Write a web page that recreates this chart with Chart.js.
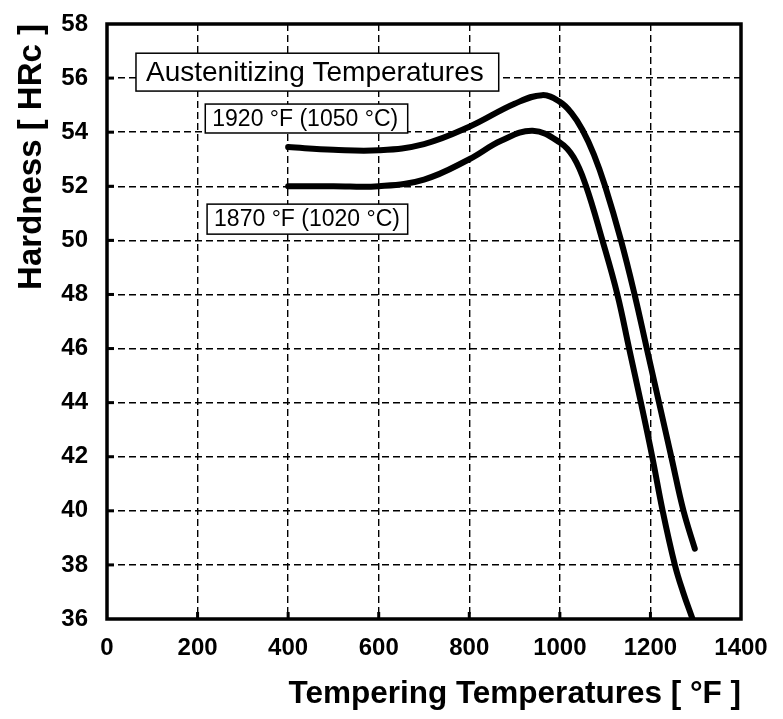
<!DOCTYPE html>
<html>
<head>
<meta charset="utf-8">
<script src="https://cdn.jsdelivr.net/npm/chart.js@4/dist/chart.umd.min.js"></script>
<style>
  html, body { margin: 0; padding: 0; background: #fff; }
  #wrap { width: 783px; height: 719px; }
</style>
</head>
<body>
<div id="wrap"><canvas id="hardnessChart" width="783" height="719"></canvas></div>
<script>
// curve 1920 F (1050 C)
const temps1920 = [400, 500, 600, 700, 800, 900, 961, 1000, 1025, 1050, 1075, 1100, 1135, 1165, 1192, 1219, 1246, 1273, 1298];
const hardness1920 = [53.45, 53.35, 53.33, 53.56, 54.2, 55.05, 55.37, 55.12, 54.72, 54.08, 53.18, 52.0, 50.0, 48.0, 46.0, 44.0, 42.0, 40.0, 38.6];

// curve 1870 F (1020 C)
const temps1870 = [400, 500, 600, 700, 800, 870, 940, 1000, 1030, 1057, 1094, 1127, 1153, 1179, 1204, 1227, 1254, 1272, 1293];
const hardness1870 = [52.0, 52.0, 52.0, 52.25, 53.0, 53.68, 54.05, 53.62, 53.08, 52.05, 50.0, 48.0, 46.0, 44.0, 42.0, 40.0, 38.0, 37.0, 36.0];

const xTicks = [0, 200, 400, 600, 800, 1000, 1200, 1400];
const yTicks = [36, 38, 40, 42, 44, 46, 48, 50, 52, 54, 56, 58];

const labelTexts = ["Austenitizing Temperatures", "1920 \u00B0F (1050 \u00B0C)", "1870 \u00B0F (1020 \u00B0C)"];

const toPoints = (xs, ys) => xs.map((x, i) => ({ x: x, y: ys[i] }));

// frame, small inner ticks and the label boxes
const framePlugin = {
  id: "frame",
  beforeDatasetsDraw(chart) {
    const { ctx, chartArea: a, scales } = chart;
    ctx.save();
    ctx.fillStyle = "#000";
    xTicks.slice(1, -1).forEach(v => {
      const px = scales.x.getPixelForValue(v);
      ctx.fillRect(px - 1.5, a.bottom - 7, 3, 7);
    });
    yTicks.slice(1, -1).forEach(v => {
      const py = scales.y.getPixelForValue(v);
      ctx.fillRect(a.left, py - 1.5, 7, 3);
    });
    ctx.strokeStyle = "#000";
    ctx.lineWidth = 3.5;
    ctx.strokeRect(a.left, a.top, a.right - a.left, a.bottom - a.top);
    ctx.restore();
  },
  afterDatasetsDraw(chart) {
    const { ctx, scales } = chart;
    const boxes = [
      { x1: 64, y1: 56.92, x2: 865, y2: 55.52, size: 28 },
      { x1: 217, y1: 55.04, x2: 664, y2: 53.97, size: 23 },
      { x1: 221, y1: 51.34, x2: 664, y2: 50.23, size: 23 }
    ];
    ctx.save();
    boxes.forEach((b, i) => {
      const l = scales.x.getPixelForValue(b.x1);
      const r = scales.x.getPixelForValue(b.x2);
      const t = scales.y.getPixelForValue(b.y1);
      const btm = scales.y.getPixelForValue(b.y2);
      ctx.fillStyle = "#fff";
      ctx.fillRect(l, t, r - l, btm - t);
      ctx.strokeStyle = "#000";
      ctx.lineWidth = 1.5;
      ctx.strokeRect(l, t, r - l, btm - t);
      ctx.fillStyle = "#000";
      ctx.font = b.size + "px 'Liberation Sans', Arial, sans-serif";
      ctx.textBaseline = "middle";
      ctx.textAlign = "left";
      ctx.fillText(labelTexts[i], l + (i === 0 ? 10 : 7), (t + btm) / 2 + 1);
    });
    ctx.restore();
  }
};

const gridStyle = {
  color: "#000",
  lineWidth: 1.4,
  drawTicks: false
};

const tickFont = { family: "'Liberation Sans', Arial, sans-serif", size: 24, weight: "bold" };

const ctx = document.getElementById("hardnessChart").getContext("2d");
const chart = new Chart(ctx, {
  type: "line",
  data: {
    datasets: [{
      label: labelTexts[1],
      data: toPoints(temps1920, hardness1920),
      borderColor: "#000",
      borderWidth: 6,
      borderCapStyle: "round",
      pointRadius: 0,
      tension: 0.4,
      fill: false
    }, {
      label: labelTexts[2],
      data: toPoints(temps1870, hardness1870),
      borderColor: "#000",
      borderWidth: 6,
      borderCapStyle: "round",
      pointRadius: 0,
      tension: 0.4,
      fill: false
    }]
  },
  options: {
    responsive: false,
    animation: false,
    layout: { padding: { top: 24, right: 42, left: 0, bottom: 0 } },
    plugins: {
      legend: { display: false },
      tooltip: { enabled: false }
    },
    scales: {
      x: {
        type: "linear",
        min: 0,
        max: 1400,
        afterBuildTicks: axis => { axis.ticks = xTicks.map(v => ({ value: v })); },
        afterFit: axis => {
          axis.height = 100;
          axis.paddingLeft = 0;
          axis.paddingRight = 0;
        },
        grid: gridStyle,
        border: { display: false, dash: [7, 4] },
        ticks: {
          color: "#000",
          padding: 15,
          font: tickFont,
          callback: v => String(v)
        },
        title: {
          display: true,
          text: "Tempering Temperatures [ \u00B0F ]",
          align: "end",
          color: "#000",
          padding: { top: 0, bottom: 6 },
          font: { family: "'Liberation Sans', Arial, sans-serif", size: 31.5, weight: "bold" }
        }
      },
      y: {
        min: 36,
        max: 58,
        afterBuildTicks: axis => { axis.ticks = yTicks.map(v => ({ value: v })); },
        afterFit: axis => {
          axis.width = 107;
          axis.paddingTop = 0;
          axis.paddingBottom = 0;
        },
        grid: gridStyle,
        border: { display: false, dash: [7, 4] },
        ticks: {
          color: "#000",
          padding: 19,
          font: tickFont,
          callback: v => String(v)
        },
        title: {
          display: true,
          text: "Hardness [ HRc ]",
          align: "end",
          color: "#000",
          padding: { top: 12, bottom: 0 },
          font: { family: "'Liberation Sans', Arial, sans-serif", size: 33, weight: "bold" }
        }
      }
    }
  },
  plugins: [framePlugin]
});
</script>
</body>
</html>
